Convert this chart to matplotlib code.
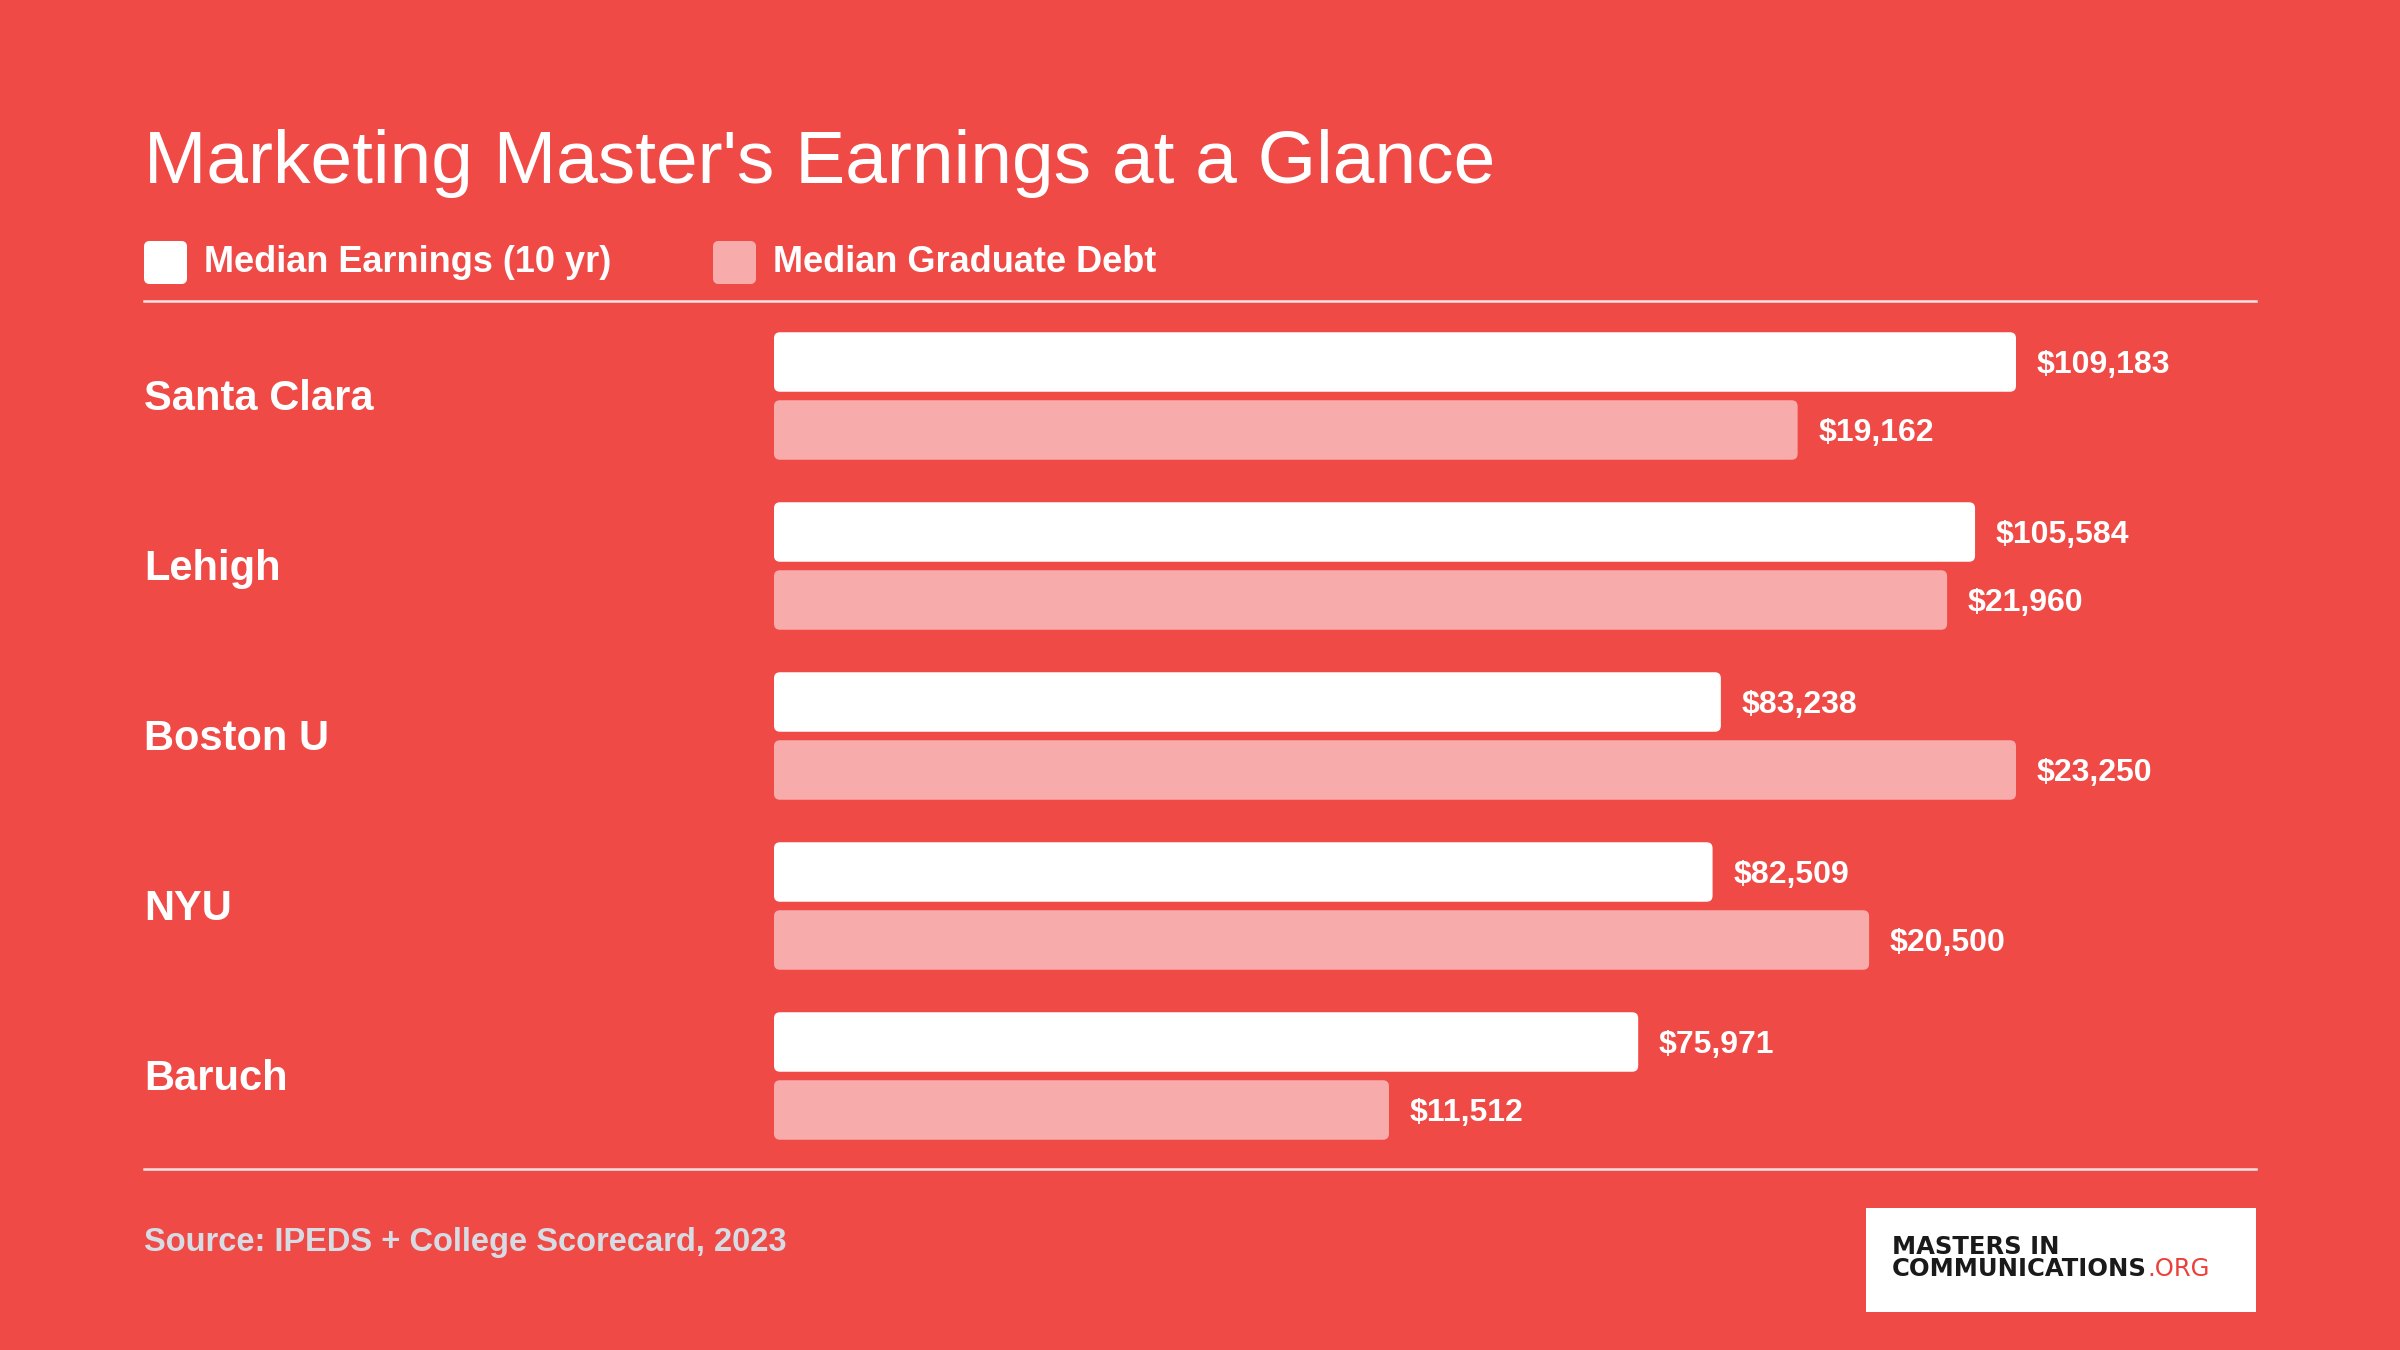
import matplotlib
matplotlib.use("Agg")
import matplotlib.pyplot as plt
from matplotlib.patches import Rectangle, FancyBboxPatch
from matplotlib.lines import Line2D
from matplotlib.transforms import blended_transform_factory, offset_copy, IdentityTransform

plt.rcParams["font.family"] = ["Liberation Sans", "DejaVu Sans"]

# === Data
schools = ["Santa Clara", "Lehigh", "Boston U", "NYU", "Baruch"]
earnings = [109183, 105584, 83238, 82509, 75971]
debt = [19162, 21960, 23250, 20500, 11512]
legend_labels = ["Median Earnings (10 yr)", "Median Graduate Debt"]
title = "Marketing Master's Earnings at a Glance"
source = "Source: IPEDS + College Scorecard, 2023"

BG = "#F04A47"
EARN_C = "#FFFFFF"
DEBT_C = "#F7ACAB"
LINE_C = "#F3E3E3"
SRC_C = "#D6DCE4"

W, H = 2400, 1350
fig = plt.figure(figsize=(24, 13.5), dpi=100, facecolor=BG)


def fx(px):
    return px / W


def fy(py):
    return 1 - py / H


# bar area: rows centred at 396 + 170*i px
ax = fig.add_axes([fx(774), fy(1161), fx(2256) - fx(774), (1161 - 311) / H])
ax.set_facecolor("none")
ax2 = ax.twiny()
for a in (ax, ax2):
    a.axis("off")

# each series is scaled to its own maximum
frac = (2016 - 774) / (2256 - 774)
ax.set_xlim(0, max(earnings) / frac)
ax2.set_xlim(0, max(debt) / frac)
ax.set_ylim(len(schools) - 0.5, -0.5)

ypos = list(range(len(schools)))
bar_h = 0.35

bars_e = ax.barh([y - 0.2 for y in ypos], earnings, height=bar_h, color=EARN_C)
bars_d = ax2.barh([y + 0.2 for y in ypos], debt, height=bar_h, color=DEBT_C)

for y, e, d in zip(ypos, earnings, debt):
    ax.annotate(f"${e:,}", xy=(e, y - 0.2), xytext=(15, -2.2), textcoords="offset points",
                va="center", ha="left", color="white", fontsize=23, fontweight="bold")
    ax2.annotate(f"${d:,}", xy=(d, y + 0.2), xytext=(15, -2.2), textcoords="offset points",
                 va="center", ha="left", color="white", fontsize=23, fontweight="bold")

lab_tr = offset_copy(blended_transform_factory(fig.transFigure, ax.transData),
                     fig=fig, x=0, y=-3, units="dots")
for y, name in zip(ypos, schools):
    ax.text(fx(144), y, name, transform=lab_tr, va="center", ha="left",
            color="white", fontsize=30, fontweight="bold")

# title
fig.text(fx(144), fy(183), title, va="baseline", ha="left", color="white", fontsize=54)

# legend
for (x0, label, c) in [(144, legend_labels[0], EARN_C), (713, legend_labels[1], DEBT_C)]:
    fig.patches.append(Rectangle((fx(x0 + 5), fy(279)), fx(33), 33 / H, transform=fig.transFigure,
                                 facecolor=c, edgecolor=c, linewidth=7.2, joinstyle="round"))
    fig.text(fx(x0 + 60), fy(262), label, va="center", ha="left", color="white",
             fontsize=26, fontweight="bold")

# separator lines
for yy in (301, 1169):
    fig.add_artist(Line2D([fx(144), fx(2256)], [fy(yy), fy(yy)], color=LINE_C, linewidth=1.8))

# source
fig.text(fx(144), fy(1243), source, va="center", ha="left", color=SRC_C,
         fontsize=23.5, fontweight="bold")

# logo box
fig.patches.append(Rectangle((fx(1866), fy(1312)), fx(390), 104 / H, transform=fig.transFigure,
                             facecolor="white", edgecolor="none"))
fig.text(fx(1892), fy(1254), "MASTERS IN", va="baseline", ha="left", color="#1A1A1A",
         fontsize=17.5, fontweight="bold", family="DejaVu Sans")
t = fig.text(fx(1892), fy(1276), "COMMUNICATIONS", va="baseline", ha="left", color="#1A1A1A",
             fontsize=17.5, fontweight="bold", family="DejaVu Sans")

fig.canvas.draw()
x_end = t.get_window_extent().x1
fig.text(x_end / W, fy(1276), ".ORG", va="baseline", ha="left", color="#EC3F3A",
         fontsize=17.5, family="DejaVu Sans")

# swap square bars for rounded ones of the same extent (pixel coords)
for bars in (bars_e, bars_d):
    for p in bars:
        bb = p.get_window_extent()
        fig.patches.append(FancyBboxPatch((bb.x0, bb.y0), bb.width, bb.height,
                                          boxstyle="round,pad=0,rounding_size=6",
                                          transform=IdentityTransform(),
                                          facecolor=p.get_facecolor(), edgecolor="none"))
        p.set_visible(False)

fig.savefig("out.png", dpi=100, facecolor=BG)
